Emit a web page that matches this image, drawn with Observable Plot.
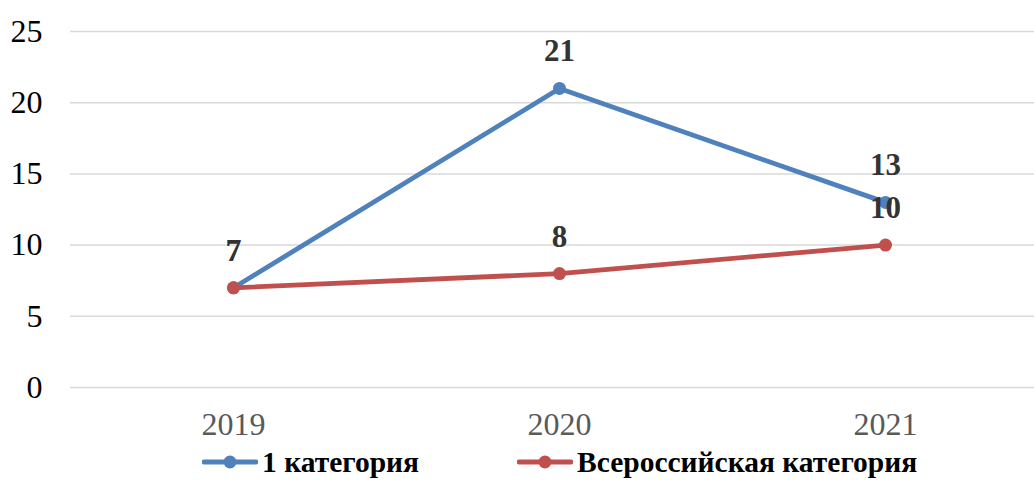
<!DOCTYPE html>
<html>
<head>
<meta charset="utf-8">
<script src="https://cdn.jsdelivr.net/npm/d3@7"></script>
<script src="https://cdn.jsdelivr.net/npm/@observablehq/plot@0.6"></script>
<style>
  body { margin: 0; background: #fff; font-family: 'Liberation Serif', serif; }
  #legend { position: relative; height: 32px; width: 1034px; font-family: 'Liberation Serif', serif; }
  .item { position: absolute; top: 0; height: 32px; display: flex; align-items: center; font-weight: bold; font-size: 29.5px; line-height: 32px; color: #000; font-family: 'Liberation Serif', serif; white-space: nowrap; }
  .item svg { margin-right: 4px; }
  svg text { font-family: 'Liberation Serif', serif; }
</style>
</head>
<body>
<div id="chart"></div>
<div id="legend"></div>
<script>
const years = ["2019", "2020", "2021"];
const firstCategory = [7, 21, 13];
const allRussianCategory = [7, 8, 10];
const seriesNames = ["1 категория", "Всероссийская категория"];
const seriesColors = ["#4F81BD", "#C0504D"];
const yTicks = [0, 5, 10, 15, 20, 25];

const rows = years.flatMap((yr, i) => [
  {year: yr, value: firstCategory[i], series: seriesNames[0]},
  {year: yr, value: allRussianCategory[i], series: seriesNames[1]}
]);

const FONT = "Liberation Serif";

const chart = Plot.plot({
  width: 1034,
  height: 446,
  marginLeft: 70,
  marginRight: 0,
  marginTop: 31,
  marginBottom: 59,
  style: {fontFamily: FONT, fontSize: "32px", background: "#fff"},
  x: {type: "point", domain: years, range: [70, 1048], padding: 0.5, label: null},
  y: {domain: [0, 25], label: null},
  color: {domain: seriesNames, range: seriesColors},
  marks: [
    Plot.gridY({ticks: yTicks, stroke: "#d9d9d9", strokeOpacity: 1, strokeWidth: 1.5}),
    Plot.axisY({ticks: yTicks, tickSize: 0, tickPadding: 28, label: null, fontSize: 32, fontFamily: FONT, color: "#000"}),
    Plot.axisX({tickSize: 0, tickPadding: 25, label: null, fontSize: 32, fontFamily: FONT, color: "#595959"}),
    Plot.line(rows, {x: "year", y: "value", z: "series", stroke: "series", strokeWidth: 4.8}),
    Plot.dot(rows, {x: "year", y: "value", fill: "series", r: 6.5}),
    Plot.text(rows, {x: "year", y: "value", text: d => String(d.value), dy: -37, fontWeight: "bold", fontSize: 31, fontFamily: FONT, fill: "#333"})
  ]
});
document.getElementById("chart").appendChild(chart);

const legend = document.getElementById("legend");
const lefts = [202, 517];
seriesNames.forEach((name, i) => {
  const item = document.createElement("div");
  item.className = "item";
  item.style.left = lefts[i] + "px";
  const c = seriesColors[i];
  item.innerHTML = `<svg width="56" height="20"><line x1="2" y1="10" x2="54" y2="10" stroke="${c}" stroke-width="4.8" stroke-linecap="round"/><circle cx="28" cy="10" r="6.5" fill="${c}"/></svg><span>${name}</span>`;
  legend.appendChild(item);
});
</script>
</body>
</html>
